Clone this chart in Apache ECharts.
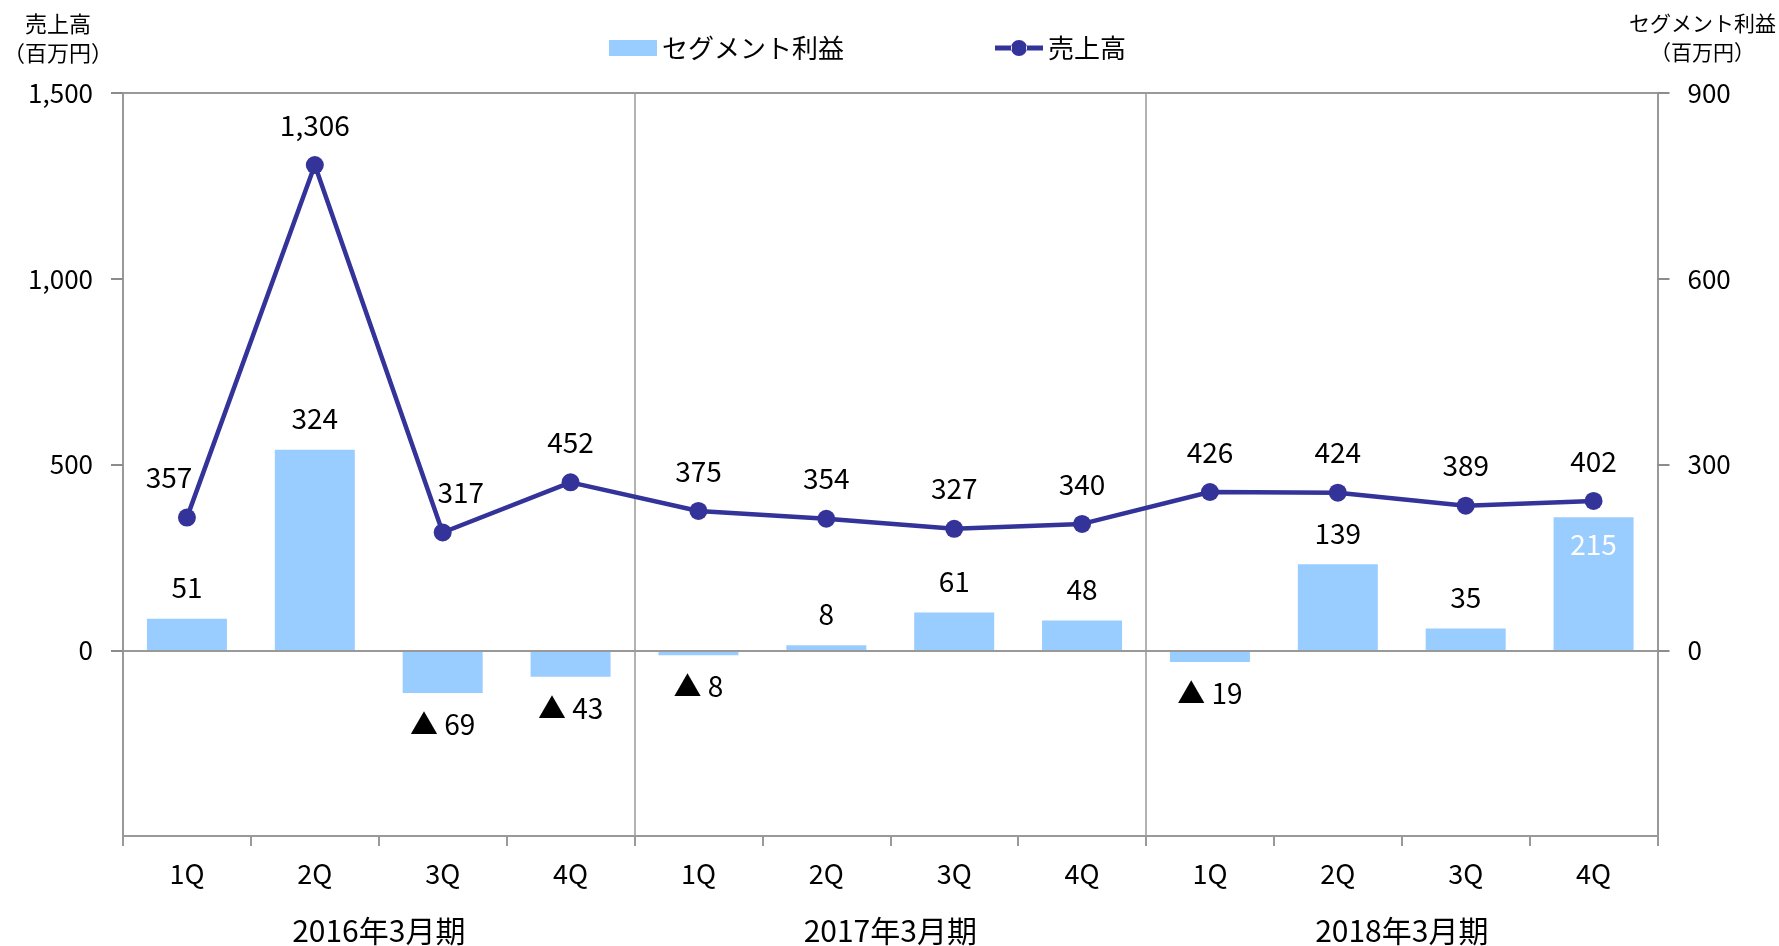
<!DOCTYPE html>
<html>
<head>
<meta charset="utf-8">
<script src="https://cdn.jsdelivr.net/npm/echarts@6/dist/echarts.min.js"></script>
<style>
  html, body { margin: 0; padding: 0; background: #fff; }
  #chart { width: 1779px; height: 946px; }
</style>
</head>
<body>
<div id="chart"></div>
<script>
// 四半期ラベル
const quarters = ['1Q', '2Q', '3Q', '4Q', '1Q', '2Q', '3Q', '4Q', '1Q', '2Q', '3Q', '4Q']
const years = ['2016年3月期', '2017年3月期', '2018年3月期']
// 売上高（百万円）
const sales = [357, 1306, 317, 452, 375, 354, 327, 340, 426, 424, 389, 402]
// セグメント利益（百万円）
const profit = [51, 324, -69, -43, -8, 8, 61, 48, -19, 139, 35, 215]

const font = 'Noto Sans CJK JP'
const fmt = v => Number(v).toLocaleString('en-US')

// 個別に位置をずらすラベル
const salesOffset = { 0: [-18, 0], 2: [18, 0] }

// 凡例用：太線＋丸マーカー
const lineIcon = 'path://M0,5.5H17V10.5H0Z M31,5.5H48V10.5H31Z M16,8A8,8 0 1,0 32,8A8,8 0 1,0 16,8Z'

const chart = echarts.init(document.getElementById('chart'))

const yAxisBase = {
  type: 'value',
  nameLocation: 'end',
  nameGap: 26,
  axisLine: { show: true, onZero: false, lineStyle: { color: '#999', width: 2 } },
  axisTick: { show: true, inside: false, length: 12, lineStyle: { color: '#8c8c8c', width: 2 } },
  axisLabel: {
    show: true, fontFamily: font, fontSize: 26, color: '#000', margin: 30,
    showMinLabel: false, formatter: v => fmt(v)
  },
  splitLine: { show: false }
}

const options = {
  backgroundColor: '#fff',
  textStyle: { fontFamily: font, color: '#000' },
  animation: false,
  legend: {
    left: 604,
    top: 30,
    itemWidth: 48,
    itemHeight: 16,
    itemGap: 151,
    textStyle: { fontFamily: font, fontSize: 26, color: '#000' },
    data: [
      { name: 'セグメント利益', icon: 'rect' },
      { name: '売上高', icon: lineIcon }
    ]
  },
  grid: {
    left: 120,
    right: 120,
    top: 93,
    bottom: 110,
    show: false
  },
  xAxis: [
    {
      type: 'category',
      data: quarters,
      axisLine: { onZero: false, lineStyle: { color: '#999', width: 2 } },
      axisTick: { show: true, length: 10, lineStyle: { color: '#999', width: 2 } },
      axisLabel: { fontFamily: font, fontSize: 27, color: '#000', margin: 24 },
      splitLine: {
        show: true,
        interval: (i) => i === 4 || i === 8,
        lineStyle: { color: '#999', width: 1.5 }
      }
    },
    {
      type: 'category',
      data: years,
      position: 'bottom',
      axisLine: { show: false },
      axisTick: { show: false },
      axisLabel: { fontFamily: font, fontSize: 30, color: '#000', margin: 80 },
      splitLine: { show: false }
    },
    {
      // 上端の枠線
      type: 'category',
      data: quarters,
      position: 'top',
      axisLine: { show: true, onZero: false, lineStyle: { color: '#999', width: 2 } },
      axisTick: { show: false },
      axisLabel: { show: false },
      splitLine: { show: false }
    }
  ],
  yAxis: [
    Object.assign({}, yAxisBase, {
      position: 'left',
      min: -500,
      max: 1500,
      interval: 500,
      name: '売上高\n（百万円）',
      nameTextStyle: {
        fontFamily: font, fontSize: 22, color: '#000', lineHeight: 29,
        align: 'center', verticalAlign: 'bottom', padding: [0, 130, 0, 0]
      }
    }),
    Object.assign({}, yAxisBase, {
      position: 'right',
      min: -300,
      max: 900,
      interval: 300,
      name: 'セグメント利益\n（百万円）',
      nameTextStyle: {
        fontFamily: font, fontSize: 21, color: '#000', lineHeight: 29,
        align: 'center', verticalAlign: 'bottom', padding: [0, 0, 0, 90]
      }
    })
  ],
  series: [
    {
      name: 'セグメント利益',
      type: 'bar',
      xAxisIndex: 0,
      yAxisIndex: 1,
      barWidth: 80,
      itemStyle: { color: '#99CCFF' },
      data: profit.map((v, i) => {
        let label
        if (v < 0) {
          label = { position: 'bottom', distance: 17, formatter: '▲ ' + Math.abs(v) }
        } else if (i === profit.length - 1) {
          label = { position: 'insideTop', distance: 13, color: '#fff' }
        } else {
          label = { position: 'top', distance: 17 }
        }
        return { value: v, label }
      }),
      label: {
        show: true,
        fontFamily: font,
        fontSize: 28,
        color: '#000'
      },
      markLine: {
        silent: true,
        symbol: 'none',
        label: { show: false },
        lineStyle: { color: '#999', width: 2, type: 'solid' },
        data: [{ yAxis: 0 }]
      }
    },
    {
      name: '売上高',
      type: 'line',
      xAxisIndex: 0,
      yAxisIndex: 0,
      symbol: 'circle',
      symbolSize: 18,
      z: 5,
      itemStyle: { color: '#333399' },
      lineStyle: { color: '#333399', width: 4.5 },
      data: sales.map((v, i) => ({
        value: v,
        label: salesOffset[i] ? { offset: salesOffset[i] } : undefined
      })),
      label: {
        show: true,
        position: 'top',
        distance: 17,
        fontFamily: font,
        fontSize: 28,
        color: '#000',
        formatter: p => fmt(p.value)
      }
    }
  ]
}

chart.setOption(options)
</script>
</body>
</html>
